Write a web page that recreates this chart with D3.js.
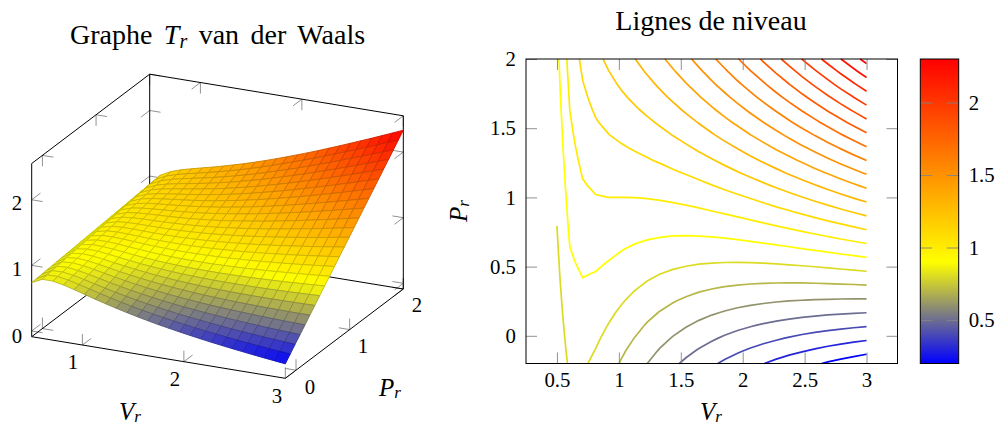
<!DOCTYPE html>
<html lang="en">
<head>
<meta charset="utf-8">
<title>Van der Waals</title>
<script src="https://cdn.jsdelivr.net/npm/d3@7"></script>
<style type="text/css">
html, body { margin: 0; padding: 0; background: #fff; }
svg { display: block; }
text { font-family: "Liberation Serif", serif; font-size: 20.8px; fill: #000; }
.tick line, .gray-tick { stroke: #858585; stroke-width: 0.9; fill: none; }
.frame { stroke: #000; stroke-width: 1; fill: none; }
.title { font-size: 28px; }
</style>
</head>
<body>
<script type="text/javascript">

var w = 996;
var h = 426;

// sample grid (25 x 25)
var vr = [0.5, 0.604, 0.708, 0.813, 0.917, 1.021, 1.125, 1.229, 1.333, 1.438, 1.542, 1.646, 1.75,
    1.854, 1.958, 2.063, 2.167, 2.271, 2.375, 2.479, 2.583, 2.688, 2.792, 2.896, 3];
var pr = [-0.2, -0.108, -0.017, 0.075, 0.167, 0.258, 0.35, 0.442, 0.533, 0.625, 0.717, 0.808, 0.9,
    0.992, 1.083, 1.175, 1.267, 1.358, 1.45, 1.542, 1.633, 1.725, 1.817, 1.908, 2];

// one row per vr value, one column per pr value
var tr = [
[.738,.743,.749,.755,.760,.766,.772,.778,.783,.789,.795,.801,.806,.812,.818,.823,.829,.835,.841,.846,.852,.858,.864,.869,.875],
[.814,.824,.833,.842,.852,.861,.870,.880,.889,.898,.908,.917,.926,.935,.945,.954,.963,.973,.982,.991,1.001,1.010,1.019,1.029,1.038],
[.813,.826,.838,.851,.864,.877,.890,.903,.916,.929,.942,.955,.967,.980,.993,1.006,1.019,1.032,1.045,1.058,1.071,1.083,1.096,1.109,1.122],
[.781,.797,.814,.830,.847,.863,.879,.896,.912,.929,.945,.962,.978,.995,1.011,1.028,1.044,1.061,1.077,1.094,1.110,1.127,1.143,1.159,1.176],
[.737,.757,.777,.797,.817,.838,.858,.878,.898,.918,.938,.958,.978,.998,1.018,1.038,1.058,1.078,1.098,1.118,1.138,1.158,1.178,1.198,1.218],
[.691,.714,.738,.762,.785,.809,.832,.856,.880,.903,.927,.951,.974,.998,1.021,1.045,1.069,1.092,1.116,1.140,1.163,1.187,1.211,1.234,1.258],
[.644,.672,.699,.726,.753,.780,.808,.835,.862,.889,.916,.944,.971,.998,1.025,1.053,1.080,1.107,1.134,1.161,1.189,1.216,1.243,1.270,1.297],
[.600,.631,.661,.692,.723,.754,.785,.815,.846,.877,.908,.939,.969,1.000,1.031,1.062,1.093,1.123,1.154,1.185,1.216,1.247,1.277,1.308,1.339],
[.558,.592,.627,.661,.695,.730,.764,.798,.833,.867,.902,.936,.970,1.005,1.039,1.073,1.108,1.142,1.177,1.211,1.245,1.280,1.314,1.348,1.383],
[.518,.556,.594,.632,.670,.708,.746,.784,.822,.860,.898,.936,.974,1.012,1.050,1.088,1.126,1.164,1.202,1.239,1.277,1.315,1.353,1.391,1.429],
[.481,.523,.564,.606,.647,.689,.731,.772,.814,.855,.897,.938,.980,1.021,1.063,1.104,1.146,1.187,1.229,1.271,1.312,1.354,1.395,1.437,1.478],
[.447,.492,.537,.582,.627,.672,.717,.762,.808,.853,.898,.943,.988,1.033,1.078,1.123,1.169,1.214,1.259,1.304,1.349,1.394,1.439,1.484,1.529],
[.414,.463,.512,.560,.609,.658,.706,.755,.804,.852,.901,.950,.999,1.047,1.096,1.145,1.193,1.242,1.291,1.339,1.388,1.437,1.486,1.534,1.583],
[.384,.436,.488,.540,.593,.645,.697,.750,.802,.854,.906,.959,1.011,1.063,1.116,1.168,1.220,1.272,1.325,1.377,1.429,1.481,1.534,1.586,1.638],
[.355,.411,.467,.522,.578,.634,.690,.746,.802,.858,.913,.969,1.025,1.081,1.137,1.193,1.249,1.304,1.360,1.416,1.472,1.528,1.584,1.640,1.695],
[.328,.387,.446,.506,.565,.625,.684,.744,.803,.863,.922,.981,1.041,1.100,1.160,1.219,1.279,1.338,1.398,1.457,1.516,1.576,1.635,1.695,1.754],
[.302,.365,.428,.491,.554,.617,.680,.743,.806,.869,.932,.995,1.058,1.121,1.184,1.247,1.310,1.373,1.436,1.499,1.562,1.625,1.688,1.751,1.814],
[.277,.344,.411,.477,.544,.610,.677,.744,.810,.877,.943,1.010,1.077,1.143,1.210,1.276,1.343,1.410,1.476,1.543,1.609,1.676,1.743,1.809,1.876],
[.254,.324,.394,.465,.535,.605,.675,.745,.816,.886,.956,1.026,1.096,1.166,1.237,1.307,1.377,1.447,1.517,1.588,1.658,1.728,1.798,1.868,1.938],
[.232,.306,.379,.453,.527,.601,.674,.748,.822,.896,.969,1.043,1.117,1.191,1.265,1.338,1.412,1.486,1.560,1.633,1.707,1.781,1.855,1.928,2.002],
[.211,.288,.365,.443,.520,.597,.675,.752,.829,.907,.984,1.061,1.139,1.216,1.293,1.371,1.448,1.525,1.603,1.680,1.757,1.835,1.912,1.989,2.067],
[.190,.271,.352,.433,.514,.595,.676,.757,.838,.918,.999,1.080,1.161,1.242,1.323,1.404,1.485,1.566,1.647,1.728,1.809,1.890,1.970,2.051,2.132],
[.171,.255,.340,.424,.509,.593,.678,.762,.847,.931,1.016,1.100,1.185,1.269,1.354,1.438,1.523,1.607,1.692,1.776,1.861,1.945,2.030,2.114,2.199],
[.152,.240,.328,.416,.504,.592,.680,.768,.856,.944,1.032,1.121,1.209,1.297,1.385,1.473,1.561,1.649,1.737,1.825,1.913,2.001,2.089,2.178,2.266],
[.133,.225,.317,.408,.500,.592,.683,.775,.867,.958,1.050,1.142,1.233,1.325,1.417,1.508,1.600,1.692,1.783,1.875,1.967,2.058,2.150,2.242,2.333]
];

var levels = [0.2, 0.3, 0.4, 0.5, 0.6, 0.7, 0.8, 0.9, 1, 1.1, 1.2, 1.3, 1.4, 1.5, 1.6, 1.7, 1.8, 1.9, 2, 2.1, 2.2, 2.3];

var surfV = [1, 2, 3];
var surfP = [0, 1, 2];
var surfZ = [0, 1, 2];
var planV = [0.5, 1, 1.5, 2, 2.5, 3];
var planP = [0, 0.5, 1, 1.5, 2];
var barTicks = [0.5, 1, 1.5, 2];

var hotColors = ["blue", "yellow", "#ff8000", "red"];

function hot(lo, hi) {
    var d = hi - lo;
    return d3.scaleLinear()
        .domain([lo, lo + d / 3, lo + 2 * d / 3, hi])
        .range(hotColors);
}

var svg = d3.select("body")
    .append("svg")
    .attr("width", w)
    .attr("height", h);

function mathLabel(g, x, y, letter, rotate) {
    var t = g.append("text")
        .attr("text-anchor", "middle")
        .attr("transform", "translate(" + x + "," + y + ")" + (rotate ? " rotate(-90)" : ""));
    t.append("tspan").attr("font-style", "italic").style("font-size", "25px").text(letter);
    t.append("tspan").attr("font-style", "italic").attr("dy", 2).style("font-size", "17px").text("r");
    return t;
}

function plainLabel(g, x, y, s, cls) {
    g.append("text").attr("class", cls || null).attr("x", x).attr("y", y).attr("text-anchor", "middle").text(s);
}

/* ---------- left: the surface ---------- */

var left = svg.append("g");

var zMin = -0.087;
var zMax = 2.553;
var originX = 31.7;
var originY = 336.7;

// each data axis maps to a screen vector
var vToX = d3.scaleLinear().domain([0.5, 3]).range([0, 253.6]);
var vToY = d3.scaleLinear().domain([0.5, 3]).range([0, 41.6]);
var pToX = d3.scaleLinear().domain([-0.2, 2]).range([0, 118]);
var pToY = d3.scaleLinear().domain([-0.2, 2]).range([0, -89.3]);
var zToY = d3.scaleLinear().domain([zMin, zMax]).range([0, -173.2]);

function project(v, p, z) {
    return [originX + vToX(v) + pToX(p), originY + vToY(v) + pToY(p) + zToY(z)];
}

var line3d = d3.line();

function edge(a, b) {
    left.append("path").attr("class", "frame").attr("d", line3d([project(a[0], a[1], a[2]), project(b[0], b[1], b[2])]));
}

var tickLen = 11;

// short gray tick from a point, towards the given end of one axis
function tick3d(pt, dir) {
    var a = project(pt[0], pt[1], pt[2]);
    var b = project(pt[0] + dir[0], pt[1] + dir[1], pt[2] + dir[2]);
    var len = Math.hypot(b[0] - a[0], b[1] - a[1]);
    var c = [a[0] + (b[0] - a[0]) * tickLen / len, a[1] + (b[1] - a[1]) * tickLen / len];
    left.append("path").attr("class", "gray-tick").attr("d", line3d([a, c]));
}

surfV.forEach(function(v) {
    tick3d([v, -0.2, zMin], [0, 0, 1]);
    tick3d([v, -0.2, zMin], [0, 1, 0]);
    tick3d([v, 2, zMin], [0, 0, 1]);
    tick3d([v, 2, zMin], [0, -1, 0]);
    tick3d([v, 2, zMax], [0, 0, -1]);
    tick3d([v, 2, zMax], [0, -1, 0]);
});
surfP.forEach(function(p) {
    tick3d([0.5, p, zMin], [0, 0, 1]);
    tick3d([0.5, p, zMin], [1, 0, 0]);
    tick3d([3, p, zMin], [0, 0, 1]);
    tick3d([3, p, zMin], [-1, 0, 0]);
    tick3d([0.5, p, zMax], [0, 0, -1]);
    tick3d([0.5, p, zMax], [1, 0, 0]);
});
surfZ.forEach(function(z) {
    tick3d([0.5, -0.2, z], [0, 1, 0]);
    tick3d([0.5, -0.2, z], [1, 0, 0]);
    tick3d([0.5, 2, z], [0, -1, 0]);
    tick3d([0.5, 2, z], [1, 0, 0]);
    tick3d([3, 2, z], [0, -1, 0]);
    tick3d([3, 2, z], [-1, 0, 0]);
});

edge([0.5, -0.2, zMin], [3, -0.2, zMin]);
edge([3, -0.2, zMin], [3, 2, zMin]);
edge([0.5, -0.2, zMin], [0.5, 2, zMin]);
edge([0.5, 2, zMin], [3, 2, zMin]);
edge([0.5, -0.2, zMin], [0.5, -0.2, zMax]);
edge([0.5, 2, zMin], [0.5, 2, zMax]);
edge([3, 2, zMin], [3, 2, zMax]);
edge([0.5, -0.2, zMax], [0.5, 2, zMax]);
edge([0.5, 2, zMax], [3, 2, zMax]);

var surfColor = hot(d3.min(tr, function(r) { return d3.min(r); }), d3.max(tr, function(r) { return d3.max(r); }));

// painted from the far corner to the near one
var cells = [];
for (var j = pr.length - 2; j >= 0; j--) {
    for (var i = 0; i < vr.length - 1; i++) {
        cells.push({i: i, j: j});
    }
}

function cellColor(d) {
    return surfColor((tr[d.i][d.j] + tr[d.i + 1][d.j] + tr[d.i + 1][d.j + 1] + tr[d.i][d.j + 1]) / 4);
}

left.append("g").selectAll("path")
    .data(cells)
    .enter()
    .append("path")
    .attr("d", function(d) {
        var i = d.i, j = d.j;
        return line3d([
            project(vr[i], pr[j], tr[i][j]),
            project(vr[i + 1], pr[j], tr[i + 1][j]),
            project(vr[i + 1], pr[j + 1], tr[i + 1][j + 1]),
            project(vr[i], pr[j + 1], tr[i][j + 1])
        ]) + "Z";
    })
    .attr("fill", cellColor)
    .attr("stroke", function(d) {
        return d3.interpolateRgb(cellColor(d), "#000")(0.2);
    })
    .attr("stroke-width", 0.9)
    .attr("stroke-linejoin", "round");

var leftTitle = left.append("text").attr("class", "title").attr("x", 217.5).attr("y", 44.3)
    .attr("text-anchor", "middle").attr("word-spacing", 4.5);
leftTitle.append("tspan").text("Graphe ");
leftTitle.append("tspan").attr("font-style", "italic").text("T");
leftTitle.append("tspan").attr("font-style", "italic").attr("dy", 4).style("font-size", "20px").text("r");
leftTitle.append("tspan").attr("dy", -4).text(" van der Waals");

plainLabel(left, 17, 343, "0");
plainLabel(left, 17, 276, "1");
plainLabel(left, 17, 210, "2");
plainLabel(left, 73, 369, "1");
plainLabel(left, 175, 386, "2");
plainLabel(left, 277, 403, "3");
plainLabel(left, 310, 394, "0");
plainLabel(left, 363, 353, "1");
plainLabel(left, 417, 312, "2");
mathLabel(left, 130, 420, "V");
mathLabel(left, 390, 395.7, "P");

/* ---------- right: the level lines ---------- */

var right = svg.append("g");

var xPlan = d3.scaleLinear().domain([0.25, 3.25]).range([526, 897.5]);
var yPlan = d3.scaleLinear().domain([-0.2, 2]).range([363.5, 59]);

var flat = [];
pr.forEach(function(p, j) {
    vr.forEach(function(v, i) {
        flat.push(tr[i][j]);
    });
});

var contours = d3.contours()
    .size([vr.length, pr.length])
    .thresholds(levels)(flat);

var vFromIndex = d3.scaleLinear().domain([0, vr.length - 1]).range([0.5, 3]);
var pFromIndex = d3.scaleLinear().domain([0, pr.length - 1]).range([-0.2, 2]);

function onEdge(pt) {
    return pt[0] === 0 || pt[1] === 0 || pt[0] === vr.length || pt[1] === pr.length;
}

// d3.contours gives closed rings, keep only the real level line
function ringPieces(ring) {
    var start = ring.findIndex(onEdge);
    if (start < 0) return [ring];
    var pieces = [], cur = [];
    for (var k = 0; k < ring.length; k++) {
        var pt = ring[(start + k) % ring.length];
        if (onEdge(pt)) {
            if (cur.length > 1) pieces.push(cur);
            cur = [];
        } else {
            cur.push(pt);
        }
    }
    if (cur.length > 1) pieces.push(cur);
    return pieces;
}

var planColor = hot(0.2, 2.3);

var levelLine = d3.line()
    .x(function(pt) { return xPlan(vFromIndex(pt[0] - 0.5)); })
    .y(function(pt) { return yPlan(pFromIndex(pt[1] - 0.5)); });

contours.forEach(function(c) {
    c.coordinates.forEach(function(poly) {
        poly.forEach(function(ring) {
            ringPieces(ring).forEach(function(piece) {
                right.append("path")
                    .attr("d", levelLine(piece))
                    .attr("fill", "none")
                    .attr("stroke", planColor(c.value))
                    .attr("stroke-width", 1.7);
            });
        });
    });
});

right.append("g")
    .attr("transform", "translate(0,363.5)")
    .call(d3.axisBottom(xPlan).tickValues(planV).tickSize(-tickLen).tickPadding(9).tickFormat(String));
right.append("g")
    .attr("transform", "translate(0,59)")
    .call(d3.axisTop(xPlan).tickValues(planV).tickSize(-tickLen).tickFormat(""));
right.append("g")
    .attr("transform", "translate(526,0)")
    .call(d3.axisLeft(yPlan).tickValues(planP).tickSize(-tickLen).tickPadding(10).tickFormat(String));
right.append("g")
    .attr("transform", "translate(897.5,0)")
    .call(d3.axisRight(yPlan).tickValues(planP).tickSize(-tickLen).tickFormat(""));
right.selectAll(".domain").remove();

right.append("rect").attr("class", "frame")
    .attr("x", 526).attr("y", 59).attr("width", 371.5).attr("height", 304.5);

plainLabel(right, 711, 30, "Lignes de niveau", "title");
mathLabel(right, 711, 420, "V");
mathLabel(right, 466.7, 211, "P", true);

/* ---------- colorbar ---------- */

var barLeft = 920.3;
var barRight = 958.7;
var yBar = d3.scaleLinear().domain([0.2, 2.3]).range([363.5, 59]);

var grad = svg.append("defs").append("linearGradient")
    .attr("id", "hot")
    .attr("x1", 0).attr("y1", 1).attr("x2", 0).attr("y2", 0);
planColor.domain().forEach(function(d) {
    grad.append("stop")
        .attr("offset", (d - 0.2) / 2.1)
        .attr("stop-color", planColor(d));
});

right.append("rect")
    .attr("x", barLeft).attr("y", 59)
    .attr("width", barRight - barLeft).attr("height", 304.5)
    .attr("fill", "url(#hot)");

right.append("g")
    .attr("transform", "translate(" + barLeft + ",0)")
    .call(d3.axisRight(yBar).tickValues(barTicks).tickSize(12).tickFormat(""));
right.append("g")
    .attr("transform", "translate(" + barRight + ",0)")
    .call(d3.axisRight(yBar).tickValues(barTicks).tickSize(-12).tickPadding(10).tickFormat(String));
right.selectAll(".domain").remove();

right.append("rect").attr("class", "frame")
    .attr("x", barLeft).attr("y", 59)
    .attr("width", barRight - barLeft).attr("height", 304.5);

</script>
</body>
</html>
